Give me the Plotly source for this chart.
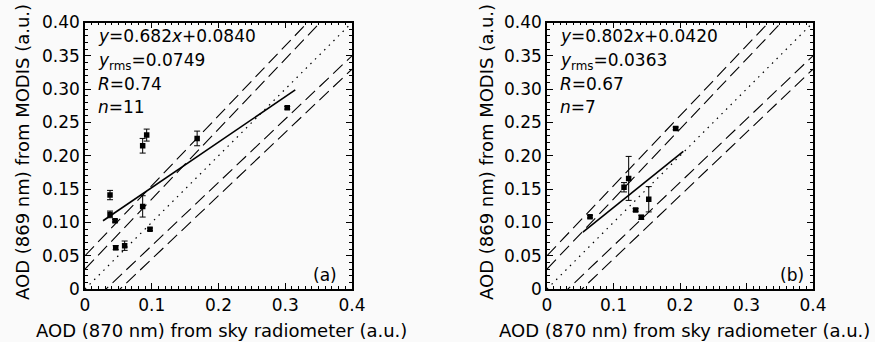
import plotly.graph_objects as go

# ---------------- data ----------------
# panel (a)
x_a = [0.0864, 0.0924, 0.168, 0.303, 0.0375, 0.0375, 0.045, 0.0864, 0.0974, 0.046, 0.0594]
y_a = [0.215, 0.231, 0.226, 0.272, 0.141, 0.112, 0.1025, 0.124, 0.0896, 0.062, 0.065]
err_a = [0.011, 0.009, 0.011, 0.002, 0.007, 0.005, 0.002, 0.016, 0.002, 0.003, 0.007]
slope_a, icpt_a = 0.682, 0.0840
fit_x_a = [0.027, 0.315]
stats_a = ["<i>y</i>=0.682<i>x</i>+0.0840", "<i>y</i><sub>rms</sub>=0.0749", "<i>R</i>=0.74", "<i>n</i>=11"]

# panel (b)
x_b = [0.0647, 0.1158, 0.1228, 0.1333, 0.1418, 0.153, 0.1935]
y_b = [0.1086, 0.1527, 0.166, 0.1186, 0.1076, 0.1347, 0.241]
err_b = [0.002, 0.007, 0.033, 0.002, 0.003, 0.019, 0.002]
slope_b, icpt_b = 0.802, 0.0420
fit_x_b = [0.054, 0.205]
stats_b = ["<i>y</i>=0.802<i>x</i>+0.0420", "<i>y</i><sub>rms</sub>=0.0363", "<i>R</i>=0.67", "<i>n</i>=7"]

# envelopes: y = x ± (offset + 0.05 x)
env_offsets = [0.03, 0.05]
env_rel = 0.05
axis_range = [0, 0.4]
x_ticks = [0, 0.1, 0.2, 0.3, 0.4]
x_ticktext = ["0", "0.1", "0.2", "0.3", "0.4"]
y_ticks = [0, 0.05, 0.10, 0.15, 0.20, 0.25, 0.30, 0.35, 0.40]
y_ticktext = ["0", "0.05", "0.10", "0.15", "0.20", "0.25", "0.30", "0.35", "0.40"]
x_title = "AOD (870 nm) from sky radiometer (a.u.)"
y_title = "AOD (869 nm) from MODIS (a.u.)"

FONT = "DejaVu Sans"
W, H = 875, 342
BG = "#fafafa"

fig = go.Figure()

def add_panel(xs, ys, errs, slope, icpt, fitx, stats, xa, ya, label, label_x):
    # 1:1 line
    fig.add_trace(go.Scatter(x=axis_range, y=axis_range, mode="lines",
                             line=dict(color="black", width=1.2, dash="1.5px,5px"),
                             xaxis=xa, yaxis=ya, showlegend=False, hoverinfo="skip"))
    for off in env_offsets:
        for sgn in (1, -1):
            yy = [x + sgn * (off + env_rel * x) for x in axis_range]
            fig.add_trace(go.Scatter(x=axis_range, y=yy, mode="lines",
                                     line=dict(color="black", width=1.1, dash="13px,6px"),
                                     xaxis=xa, yaxis=ya, showlegend=False, hoverinfo="skip"))
    # regression line
    fig.add_trace(go.Scatter(x=fitx, y=[slope * v + icpt for v in fitx], mode="lines",
                             line=dict(color="black", width=1.6),
                             xaxis=xa, yaxis=ya, showlegend=False, hoverinfo="skip"))
    # points
    fig.add_trace(go.Scatter(x=xs, y=ys, mode="markers",
                             marker=dict(symbol="square", size=5.5, color="black"),
                             error_y=dict(type="data", array=errs, visible=True,
                                          color="black", thickness=1, width=3),
                             xaxis=xa, yaxis=ya, showlegend=False))
    # stats text
    ypos = [0.380, 0.341, 0.308, 0.273]
    for s, yv in zip(stats, ypos):
        fig.add_annotation(x=0.016, y=yv, xref=xa, yref=ya, text=s, showarrow=False,
                           xanchor="left", yanchor="middle",
                           font=dict(family=FONT, size=17, color="black"))
    fig.add_annotation(x=label_x, y=0.021, xref=xa, yref=ya, text=label, showarrow=False,
                       xanchor="right", yanchor="middle",
                       font=dict(family=FONT, size=17, color="black"))

add_panel(x_a, y_a, err_a, slope_a, icpt_a, fit_x_a, stats_a, "x", "y", "(a)", 0.38)
add_panel(x_b, y_b, err_b, slope_b, icpt_b, fit_x_b, stats_b, "x2", "y2", "(b)", 0.39)

ydom = [1 - 289 / H, 1 - 22.5 / H]
common = dict(range=axis_range,
              ticks="inside", ticklen=6, tickwidth=1, tickcolor="black",
              showline=True, linecolor="black", linewidth=1.5, mirror="allticks",
              showgrid=False, zeroline=False, automargin=False,
              minor=dict(dtick=0.01, ticks="inside", ticklen=3, tickcolor="black", tickwidth=1),
              tickfont=dict(family=FONT, size=17, color="black"))
common_x = dict(tickvals=x_ticks, ticktext=x_ticktext, **common)
common_y = dict(tickvals=y_ticks, ticktext=y_ticktext, **common)

fig.update_layout(
    template="none",
    width=W, height=H, margin=dict(l=0, r=0, t=0, b=0, autoexpand=False),
    paper_bgcolor=BG, plot_bgcolor=BG,
    font=dict(family=FONT, color="black"),
    xaxis=dict(domain=[85 / W, 352 / W], anchor="y", **common_x),
    yaxis=dict(domain=ydom, anchor="x", **common_y),
    xaxis2=dict(domain=[547 / W, 813 / W], anchor="y2", **common_x),
    yaxis2=dict(domain=ydom, anchor="x2", **common_y),
)

# axis titles
for cx in (221 / W, 684 / W):
    fig.add_annotation(x=cx, y=1 - 330 / H, xref="paper", yref="paper", text=x_title,
                       showarrow=False, xanchor="center", yanchor="middle",
                       font=dict(family=FONT, size=18, color="black"))
for cx in (22 / W, 486 / W):
    fig.add_annotation(x=cx, y=1 - 152 / H, xref="paper", yref="paper", text=y_title,
                       showarrow=False, xanchor="center", yanchor="middle", textangle=-90,
                       font=dict(family=FONT, size=18, color="black"))

fig.write_html("out.html", config={"displayModeBar": False},
               post_script="document.body.style.margin='0';document.body.style.overflow='hidden';")
